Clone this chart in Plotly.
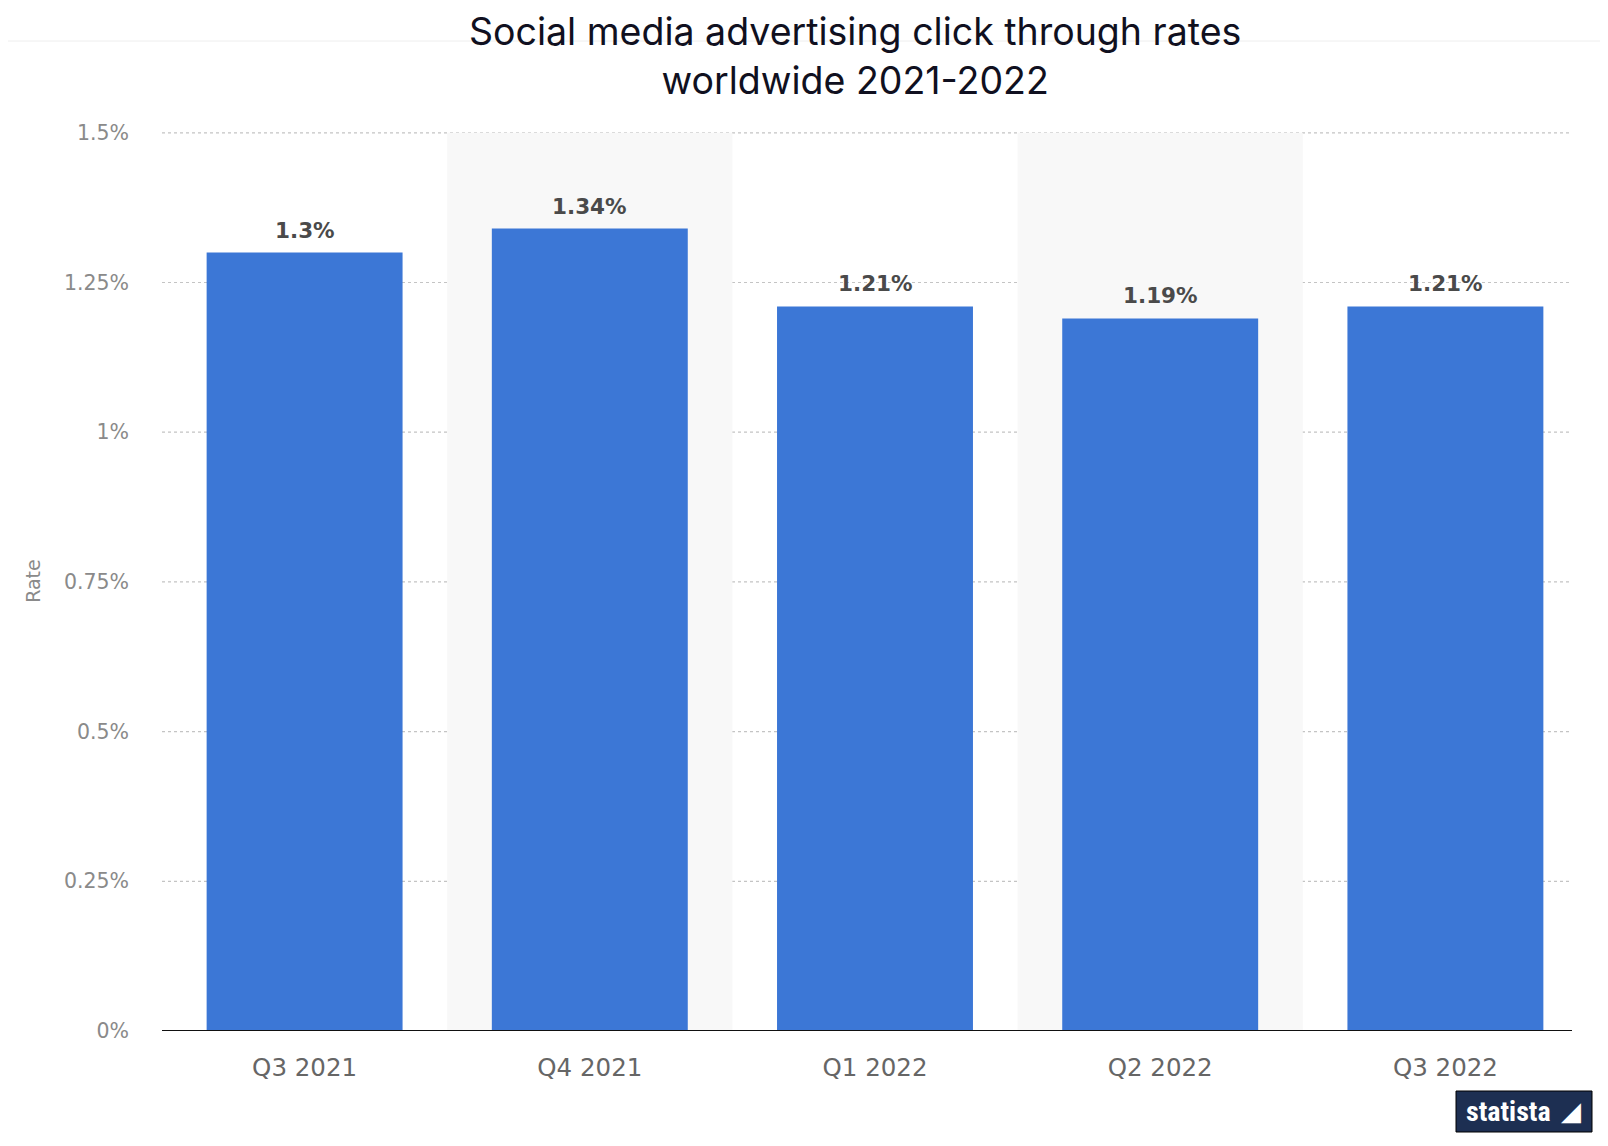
import plotly.graph_objects as go

title_lines = ["Social media advertising click through rates", "worldwide 2021-2022"]
categories = ["Q3 2021", "Q4 2021", "Q1 2022", "Q2 2022", "Q3 2022"]
rates = [1.3, 1.34, 1.21, 1.19, 1.21]
labels = ["1.3%", "1.34%", "1.21%", "1.19%", "1.21%"]
y_ticks = [0, 0.25, 0.5, 0.75, 1.0, 1.25, 1.5]
y_ticktext = ["0%", "0.25%", "0.5%", "0.75%", "1%", "1.25%", "1.5%"]

# page body has an 8px margin, so figure is slightly smaller than the window
W, H = 1600, 1138
ML, MR, MT, MB = 154, 20, 123, 115
PW, PH = W - ML - MR, H - MT - MB

fig = go.Figure()

fig.add_trace(go.Bar(
    x=categories, y=rates,
    marker=dict(color="#3c77d6", line=dict(width=0)),
    hoverinfo="skip",
))

for c, v, t in zip(categories, rates, labels):
    fig.add_annotation(x=c, y=v, text=f"<b>{t}</b>", xref="x", yref="y",
                       showarrow=False, yanchor="bottom", yshift=8,
                       font=dict(family="DejaVu Sans", size=21.5, color="#4a4a4a"))

# title, two centred lines in one text block
fig.add_annotation(text="<br>".join(title_lines), xref="paper", yref="paper",
                   x=(855 - 8 - ML) / PW, y=1 + (MT - (56 - 8)) / PH,
                   showarrow=False, xanchor="center", yanchor="middle", align="center",
                   font=dict(family="Inter", size=37.5, color="#101020"))

shapes = []
# alternating background bands (every second category)
for i in range(len(categories)):
    if i % 2 == 1:
        shapes.append(dict(type="rect", xref="x", yref="y", x0=i - 0.5, x1=i + 0.5,
                           y0=0, y1=max(y_ticks), fillcolor="#f8f8f8", line=dict(width=0),
                           layer="below"))
# dotted gridlines (ending a little before the right edge of the plot area)
grid_end = (1572 - 8 - ML) / PW
for v in y_ticks[1:]:
    shapes.append(dict(type="line", xref="paper", yref="y", x0=0, x1=grid_end, y0=v, y1=v,
                       line=dict(color="#c4c4c4", width=1.2, dash="dot"), layer="below"))
# baseline
shapes.append(dict(type="line", xref="paper", yref="y", x0=0, x1=grid_end, y0=0, y1=0,
                   line=dict(color="#111111", width=2), layer="above"))
# thin top separator line
shapes.append(dict(type="line", xref="paper", yref="paper", x0=-0.2, x1=1.05,
                   y0=1 + (MT - 33) / PH, y1=1 + (MT - 33) / PH,
                   line=dict(color="#eeeeee", width=1), layer="below"))
fig.update_layout(shapes=shapes)

fig.update_layout(
    width=W, height=H,
    margin=dict(l=ML, r=MR, t=MT, b=MB),
    paper_bgcolor="white", plot_bgcolor="white",
    bargap=0.313, showlegend=False,
    xaxis=dict(showgrid=False, ticks="", showline=False, zeroline=False,
               tickfont=dict(family="DejaVu Sans", size=24.5, color="#666666"),
               ticklabelstandoff=19),
    yaxis=dict(range=[0, 1.503], tickvals=y_ticks, ticktext=y_ticktext,
               showgrid=False, zeroline=False,
               tickfont=dict(family="DejaVu Sans", size=20.5, color="#8a8a8a"),
               ticklabelstandoff=32,
               title=dict(text="Rate", font=dict(family="DejaVu Sans", size=19, color="#8a8a8a"),
                          standoff=18)),
)

# statista logo
fig.add_shape(type="rect", xref="paper", yref="paper",
              x0=(1456 - 8 - ML) / PW, x1=(1592 - 8 - ML) / PW,
              y0=-(1132 - 8 - MT - PH) / PH, y1=-(1091 - 8 - MT - PH) / PH,
              fillcolor="#1d2f52", line=dict(color="#000000", width=1))
fig.add_annotation(text="<b>statista</b>", xref="paper", yref="paper",
                   x=(1508 - 8 - ML) / PW, y=-(1111 - 8 - MT - PH) / PH,
                   showarrow=False, xanchor="center", yanchor="middle",
                   font=dict(family="Roboto Condensed, Roboto, DejaVu Sans Condensed", size=28, color="white"))
fig.add_annotation(text="◢", xref="paper", yref="paper",
                   x=(1571 - 8 - ML) / PW, y=-(1111 - 8 - MT - PH) / PH,
                   showarrow=False, xanchor="center", yanchor="middle",
                   font=dict(family="DejaVu Sans", size=26, color="white"))

fig.write_html("out.html")
